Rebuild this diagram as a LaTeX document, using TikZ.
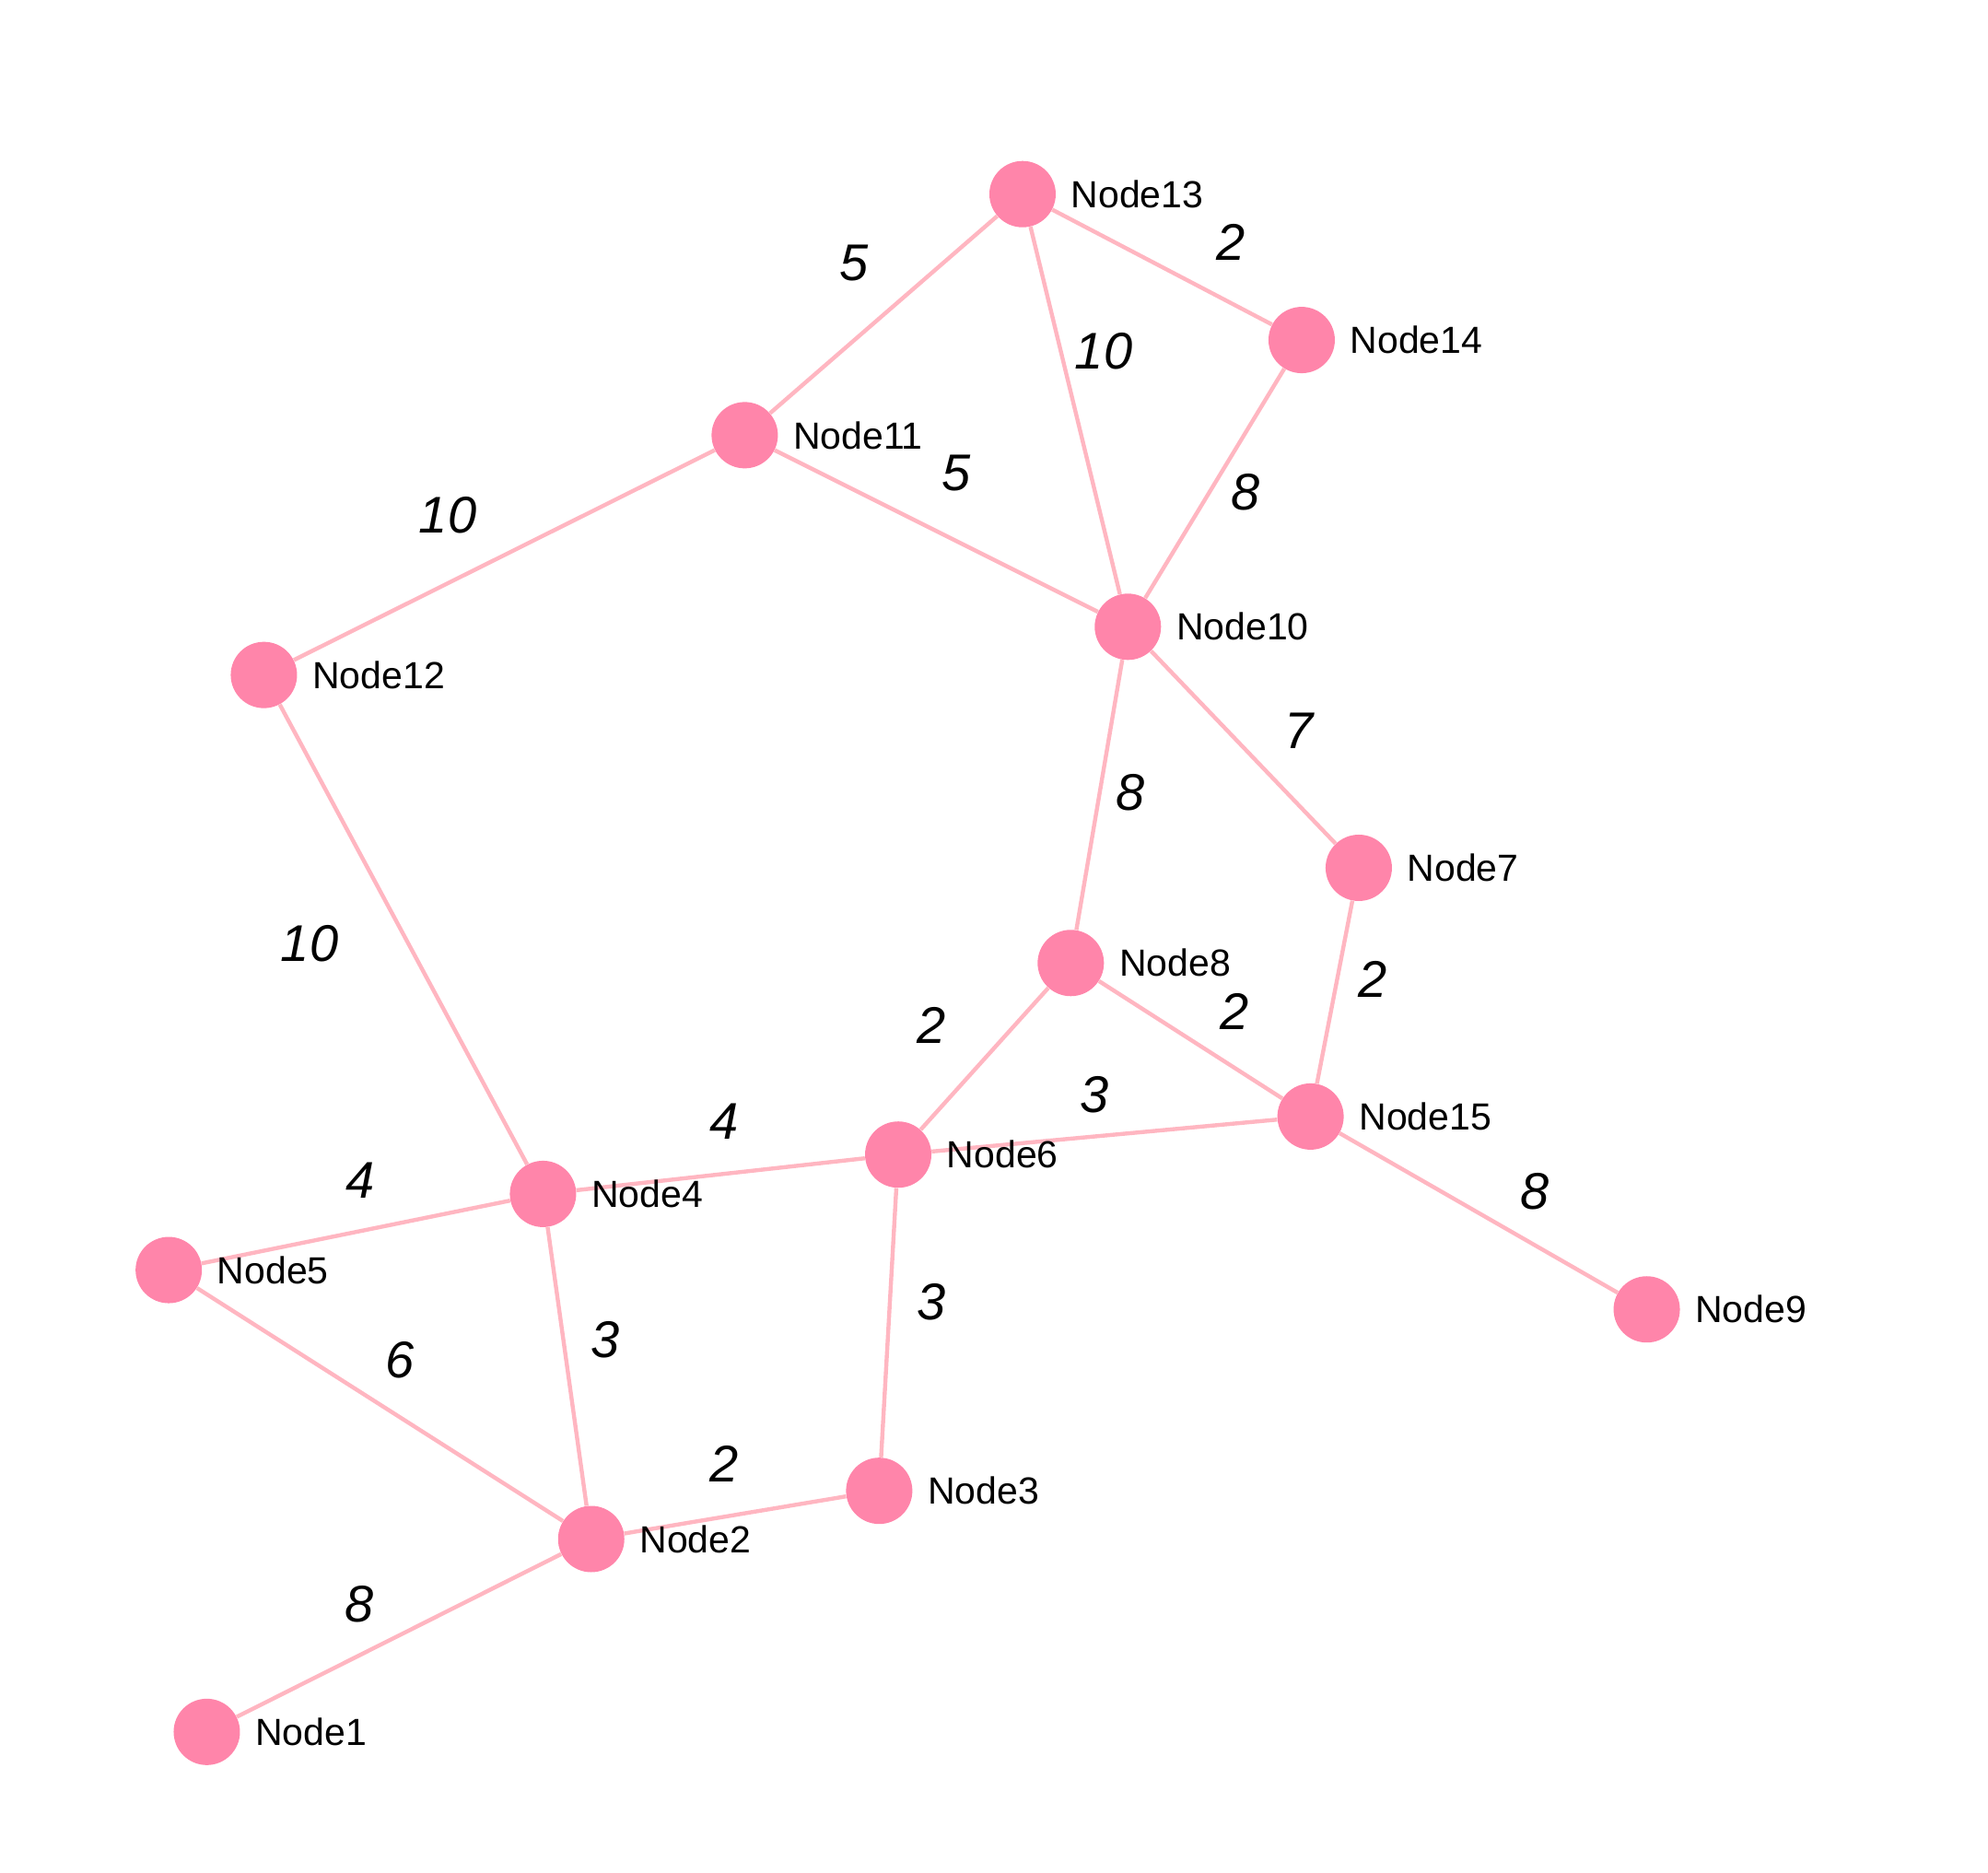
\documentclass[tikz,border=0pt]{standalone}
\usepackage{fontspec}
\setmainfont{Liberation Sans}
\usetikzlibrary{backgrounds}
\definecolor{nodepink}{HTML}{FF85AA}
\definecolor{edgepink}{HTML}{FFB6C1}

\begin{document}
\begin{tikzpicture}[x=0.6886pt, y=-0.6886pt,
  vertex/.style = {circle, fill=nodepink, minimum size=36pt, inner sep=0pt},
  tag/.style = {font=\fontsize{20.5}{24}\selectfont, inner sep=0pt},
  link/.style = {draw=edgepink, line width=2.2pt},
  weight/.style = {font=\fontsize{28}{32}\selectfont\itshape, inner sep=0pt}]
  \useasboundingbox (0,0) rectangle (1567,1476.2);
  % graph nodes
  \foreach \i/\x/\y in {1/163/1365, 2/466/1213, 3/693/1175, 4/428/941,
      5/133/1001, 6/708/910, 7/1071/684, 8/844/759, 9/1298/1032,
      10/889/494, 11/587/343, 12/208/532, 13/806/153, 14/1026/268,
      15/1033/880}
    \node[vertex, label={[tag, label distance=8pt]right:Node\i}] (n\i) at (\x,\y) {};
  % weighted edges
  \begin{scope}[on background layer]
    \foreach \a/\b/\w/\lx/\ly in {13/11/5/673/207, 13/14/2/970/191,
        13/10/10/870/277, 11/10/5/754/373, 14/10/8/982/388,
        11/12/10/353/406, 10/7/7/1024/576, 10/8/8/891/625,
        12/4/10/244/744, 7/15/2/1082/772, 8/6/2/734/808,
        8/15/2/973/797, 6/15/3/863/863, 4/6/4/571/884,
        5/4/4/284/930, 15/9/8/1210/939, 6/3/3/734/1026,
        4/2/3/477/1056, 5/2/6/315/1072, 2/3/2/571/1154,
        2/1/8/283/1264} {
      \draw[link] (n\a) -- (n\b);
      \node[weight] (w\a-\b) at (\lx,\ly) {\w};
    }
  \end{scope}
\end{tikzpicture}
\end{document}
